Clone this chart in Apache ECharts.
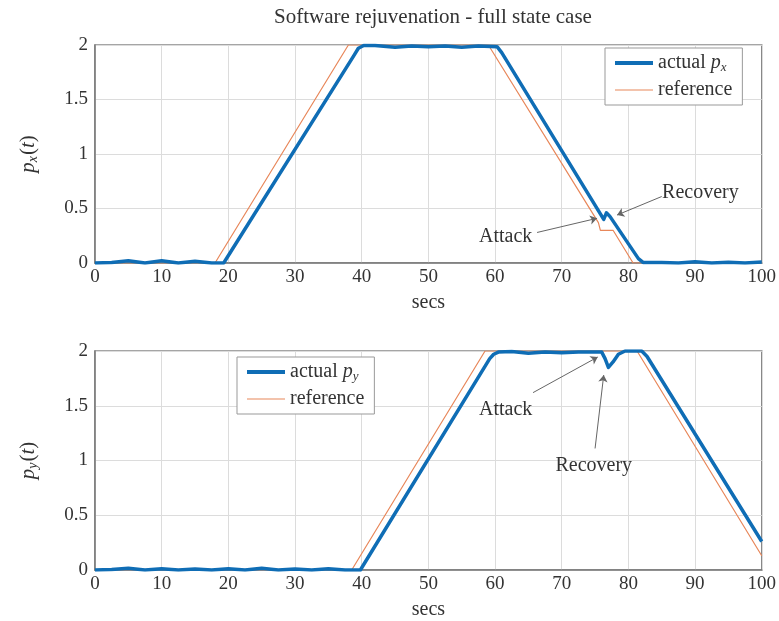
<!DOCTYPE html>
<html>
<head>
<meta charset="utf-8">
<script src="https://cdn.jsdelivr.net/npm/echarts@6/dist/echarts.min.js"></script>
<style>html,body{margin:0;padding:0;background:#fff}#c{width:779px;height:621px}</style>
</head>
<body>
<div id="c"></div>
<script>
// ---- data ----
const xTicks = [0, 10, 20, 30, 40, 50, 60, 70, 80, 90, 100];
const yTicks = [0, 0.5, 1, 1.5, 2];

const pxActual = [
  [0, 0], [2.5, 0.005], [5, 0.02], [7.5, 0.0], [10, 0.02], [12.5, 0.0], [15, 0.015], [17.5, 0.0], [19.3, 0.0],
  [38.8, 1.9], [39.5, 1.97], [40.3, 1.995], [42, 1.995], [45, 1.98], [47.5, 1.99], [50, 1.985], [52.5, 1.99],
  [55, 1.98], [57.5, 1.99], [60.3, 1.985], [61, 1.93], [76.3, 0.40], [76.7, 0.46], [77.2, 0.43],
  [81.5, 0.04], [82.2, 0.005], [85, 0.005], [87.5, 0.0], [90, 0.012], [92.5, 0.0], [95, 0.008], [97.5, 0.0], [100, 0.01]
];
const pxRef = [[0, 0], [18, 0], [38, 2], [59, 2], [75.5, 0.37], [75.8, 0.3], [77.7, 0.3], [80.7, 0], [100, 0]];

const pyActual = [
  [0, 0], [2.5, 0.005], [5, 0.015], [7.5, 0.0], [10, 0.012], [12.5, 0.0], [15, 0.01], [17.5, 0.0], [20, 0.012],
  [22.5, 0.0], [25, 0.015], [27.5, 0.0], [30, 0.01], [32.5, 0.0], [35, 0.012], [37.5, 0.0], [39.8, 0.0],
  [59.2, 1.93], [59.8, 1.97], [60.5, 1.99], [62.5, 1.995], [65, 1.98], [67.5, 1.99], [70, 1.985], [72.5, 1.99],
  [75, 1.99], [76, 1.99], [76.5, 1.93], [77, 1.85], [77.7, 1.9], [78.5, 1.97], [79.5, 2.0], [82, 2.0],
  [82.8, 1.95], [100, 0.26]
];
const pyRef = [[0, 0], [38.5, 0], [58.5, 2], [81.3, 2], [100, 0.13]];

// annotation anchors in data space: [text, textX, textY, arrowFromX, arrowFromY, arrowToX, arrowToY]
const annTop = [
  ['Attack', 61.6, 0.24, 66.3, 0.28, 75.3, 0.41],
  ['Recovery', 90.8, 0.64, 85.0, 0.61, 78.3, 0.44]
];
const annBottom = [
  ['Attack', 61.6, 1.46, 65.7, 1.62, 75.4, 1.945],
  ['Recovery', 74.8, 0.95, 75.0, 1.11, 76.3, 1.78]
];

const FONT = 'Liberation Serif';
const BLUE = '#0f6db5';
const ORANGE = '#e8875a';
const TXT = '#333';

function xAxis(gi) {
  return {
    gridIndex: gi, type: 'value', min: 0, max: 100, interval: 10,
    name: 'secs', nameLocation: 'middle', nameGap: 30,
    nameTextStyle: { fontFamily: FONT, fontSize: 20, color: TXT },
    axisLine: { show: true, lineStyle: { color: '#777', width: 1.5 } },
    axisTick: { show: false },
    axisLabel: { fontFamily: FONT, fontSize: 19, color: TXT, margin: 5 },
    splitLine: { show: true, lineStyle: { color: '#dcdcdc', width: 1 } }
  };
}
function yAxis(gi, sub) {
  return {
    gridIndex: gi, type: 'value', min: 0, max: 2, interval: 0.5,
    name: '{i|p}{s|' + sub + '}{n|(}{i|t}{n|)}', nameLocation: 'middle', nameGap: 55, nameRotate: 90,
    nameTextStyle: {
      rich: {
        i: { fontFamily: FONT, fontStyle: 'italic', fontSize: 21, color: TXT },
        s: { fontFamily: FONT, fontStyle: 'italic', fontSize: 14, color: TXT, verticalAlign: 'bottom', padding: [9, 1, 0, 0] },
        n: { fontFamily: FONT, fontSize: 21, color: TXT }
      }
    },
    axisLine: { show: true, lineStyle: { color: '#777', width: 1.5 } },
    axisTick: { show: false },
    axisLabel: { fontFamily: FONT, fontSize: 19, color: TXT, margin: 7 },
    splitLine: { show: true, lineStyle: { color: '#dcdcdc', width: 1 } }
  };
}
function annSeries(gi, anns) {
  return {
    type: 'line', xAxisIndex: gi, yAxisIndex: gi, data: [], silent: true,
    markLine: {
      silent: true, symbol: ['none', 'arrow'], symbolSize: 7, animation: false,
      lineStyle: { color: '#666', width: 1, type: 'solid' }, label: { show: false },
      data: anns.map(a => [{ coord: [a[3], a[4]] }, { coord: [a[5], a[6]] }])
    },
    markPoint: {
      silent: true, symbol: 'circle', symbolSize: 0, animation: false,
      label: { show: true, position: 'inside', fontFamily: FONT, fontSize: 20, color: TXT, formatter: p => p.name },
      data: anns.map(a => ({ name: a[0], coord: [a[1], a[2]] }))
    }
  };
}
function legend(names, left, top, sub) {
  return {
    data: [
      { name: names[0], lineStyle: { width: 4, color: BLUE } },
      { name: names[1], lineStyle: { width: 1.2, color: ORANGE } }
    ],
    orient: 'vertical', left: left, top: top,
    itemWidth: 38, itemHeight: 10, itemGap: 6, padding: [5, 10, 5, 8],
    borderColor: '#999', borderWidth: 1, backgroundColor: '#fff',
    itemStyle: { opacity: 0, color: 'rgba(0,0,0,0)', borderWidth: 0 },
    textStyle: { fontFamily: FONT, fontSize: 20, color: TXT,
      rich: { i: { fontFamily: FONT, fontSize: 20, fontStyle: 'italic', color: TXT }, s: { fontFamily: FONT, fontSize: 13, fontStyle: 'italic', color: TXT, padding: [9, 0, 0, 0] } } },
    formatter: n => n.indexOf('actual') === 0 ? 'actual {i|p}{s|' + sub + '}' : 'reference'
  };
}

const chart = echarts.init(document.getElementById('c'), null, { renderer: 'canvas' });
chart.setOption({
  animation: false,
  backgroundColor: '#fff',
  title: {
    text: 'Software rejuvenation - full state case', left: 428, top: 2, textAlign: 'center',
    textStyle: { fontFamily: FONT, fontSize: 21, fontWeight: 'normal', color: TXT }
  },
  grid: [
    { left: 95, right: 17, top: 45, height: 218, show: true, borderColor: '#888', borderWidth: 1.5, backgroundColor: 'transparent' },
    { left: 95, right: 17, top: 351, height: 219, show: true, borderColor: '#888', borderWidth: 1.5, backgroundColor: 'transparent' }
  ],
  xAxis: [xAxis(0), xAxis(1)],
  yAxis: [yAxis(0, 'x'), yAxis(1, 'y')],
  legend: [
    legend(['actual p_x', 'reference'], 605, 48, 'x'),
    legend(['actual p_y', 'reference '], 237, 357, 'y')
  ],
  series: [
    { name: 'reference', type: 'line', xAxisIndex: 0, yAxisIndex: 0, data: pxRef, symbol: 'none', lineStyle: { color: ORANGE, width: 1.2 }, itemStyle: { color: ORANGE }, z: 2 },
    { name: 'actual p_x', type: 'line', xAxisIndex: 0, yAxisIndex: 0, data: pxActual, symbol: 'none', lineStyle: { color: BLUE, width: 3.5, join: 'round' }, itemStyle: { color: BLUE }, z: 3 },
    { name: 'reference ', type: 'line', xAxisIndex: 1, yAxisIndex: 1, data: pyRef, symbol: 'none', lineStyle: { color: ORANGE, width: 1.2 }, itemStyle: { color: ORANGE }, z: 2 },
    { name: 'actual p_y', type: 'line', xAxisIndex: 1, yAxisIndex: 1, data: pyActual, symbol: 'none', lineStyle: { color: BLUE, width: 3.5, join: 'round' }, itemStyle: { color: BLUE }, z: 3 },
    annSeries(0, annTop),
    annSeries(1, annBottom)
  ]
});
</script>
</body>
</html>
